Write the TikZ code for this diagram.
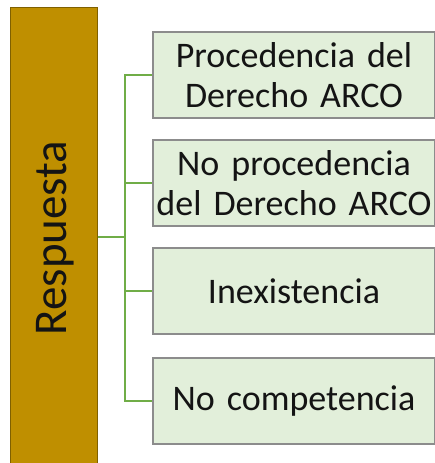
\documentclass[tikz,border=0pt]{standalone}
\usepackage{fontspec}
\setmainfont{Carlito}
\usetikzlibrary{positioning}
\definecolor{respgold}{RGB}{191,143,0}
\definecolor{respedge}{RGB}{127,96,0}
\definecolor{itemfill}{RGB}{226,239,218}
\definecolor{itemedge}{RGB}{140,140,140}
\definecolor{linkgreen}{RGB}{112,173,71}
\definecolor{inktext}{RGB}{20,20,20}
\tikzset{
  %% ---- boxes ----
  respbox/.style = {rectangle, draw=respedge, line width=1pt,
                    fill=respgold, minimum width=87pt, minimum height=458pt,
                    inner sep=0pt},
  itembox/.style = {rectangle, draw=itemedge, line width=1.2pt,
                    fill=itemfill, minimum width=282pt, minimum height=86pt,
                    text width=278pt, align=center, inner sep=0pt,
                    text=inktext, font=\fontsize{36}{40}\selectfont},
  %% ---- connectors ----
  link/.style    = {draw=linkgreen, line width=2.2pt},
}
\begin{document}
\begin{tikzpicture}[x=1pt, y=1pt]
  \useasboundingbox (0,0) rectangle (434,463);

  \node[respbox] (resp) at (53.5,226) {};
  \node[rotate=90, text=inktext, font=\fontsize{47}{50}\selectfont]
    (resplbl) at (55,225) {Respuesta};

  \node[itembox] (proc) at (294,388) {Procedencia del\\Derecho ARCO};
  \node[itembox] (noproc) at (294,280) {No procedencia\\del Derecho ARCO};
  \node[itembox] (inex) at (294,172) {Inexistencia};
  \node[itembox] (nocomp) at (294,62) {No competencia};

  \coordinate (fork) at (125,226);
  \draw[link] (resp.east |- fork) -- (fork);
  \foreach \b in {proc, noproc, inex, nocomp}
    \draw[link] (fork) |- (\b.west);

\end{tikzpicture}
\end{document}
